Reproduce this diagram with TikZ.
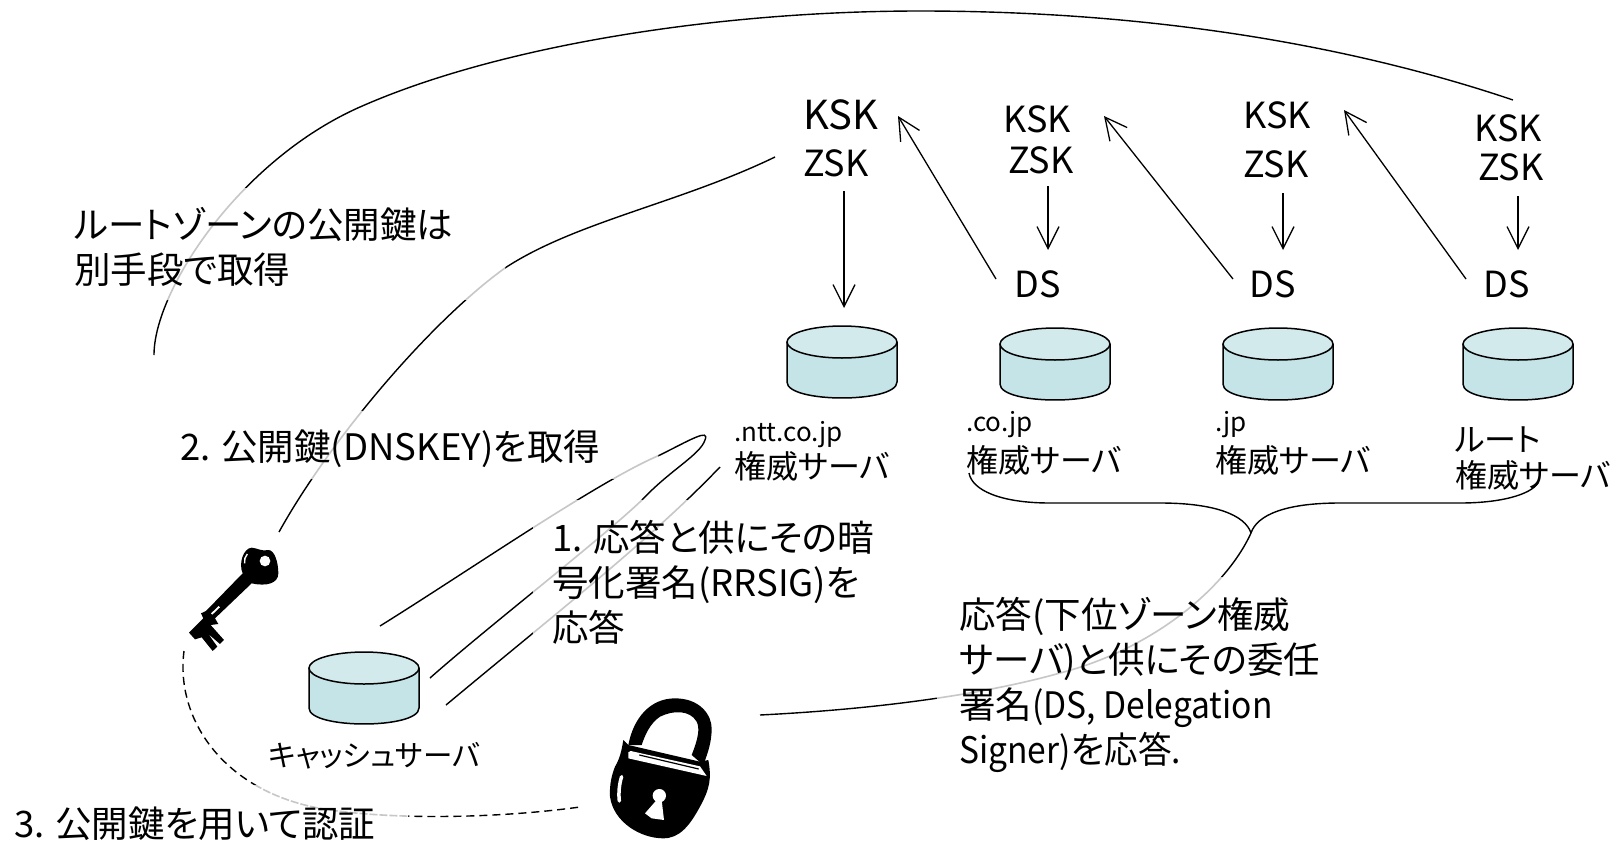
\documentclass[tikz,border=0pt]{standalone}
\usepackage{fontspec}
\usepackage{graphicx}
\usetikzlibrary{arrows.meta}
\setmainfont[RawFeature=+palt]{Noto Sans CJK JP}
\definecolor{cyltop}{HTML}{D2EAEC}
\definecolor{cylbody}{HTML}{C5E4E8}
\tikzset{
  x=1pt,y=-1pt,
  wire/.style={line width=1.4pt,black},
  fadewire/.style={line width=1.6pt,black!22},
  arrowline/.style={line width=1.3pt,-{Straight Barb[length=22pt,width=22pt,line width=1.3pt]}},
  dashline/.style={line width=1.4pt,dash pattern=on 8pt off 5pt},
  big/.style={inner sep=0,anchor=west,align=left,font=\fontsize{36.5}{45}\selectfont},
  small/.style={inner sep=0,anchor=west,align=left,font=\fontsize{32}{36}\selectfont},
  keylabel/.style={inner sep=0,anchor=center,font=\fontsize{36}{40}\selectfont},
}
\newcommand{\dom}[1]{{\fontsize{26}{36}\selectfont #1}}
\newcommand{\narrow}[1]{\scalebox{.92}[1]{#1}}
\newcommand{\dbcyl}[3]{%
  \fill[cylbody] (#2,#3+16) -- (#2,#3+56) .. controls (#2,#3+77.3) and (#2+110,#3+77.3) .. (#2+110,#3+56) -- (#2+110,#3+16) -- cycle;
  \draw[line width=1.5pt] (#2,#3+16) -- (#2,#3+56) .. controls (#2,#3+77.3) and (#2+110,#3+77.3) .. (#2+110,#3+56) -- (#2+110,#3+16);
  \draw[line width=1.5pt,fill=cyltop] (#2+55,#3+16) ellipse [x radius=55,y radius=16];
  \coordinate (#1) at (#2+55,#3);
}
\def\ArcPath{(arcA) .. controls (154,290) and (240,160) .. (360,107) .. controls (500,45) and (720,11) .. (920,11) .. controls (1150,11) and (1350,45) .. (arcB)}
\def\KeyPath{(zskA) .. controls (680,203) and (575,222) .. (505,268) .. controls (430,322) and (330,440) .. (keyTop)}
\def\LoopPath{(cacheA) .. controls (470,570) and (600,480) .. (660,455) .. controls (690,440) and (710,428) .. (705,440) .. controls (700,455) and (670,470) .. (642,500) .. controls (600,540) and (490,625) .. (cacheB)}
\def\ThirdPath{(nttC) .. controls (650,540) and (560,610) .. (cacheC)}
\def\DelegPath{(fork) .. controls (1225,590) and (1150,650) .. (1060,673) .. controls (1000,690) and (900,708) .. (lockA)}
\def\DashPath{(keyBot) .. controls (175,720) and (225,795) .. (330,810) .. controls (400,820) and (500,818) .. (lockB)}
\begin{document}
\begin{tikzpicture}
\useasboundingbox (0,0) rectangle (1619,841);
% anchor points
\coordinate (arcA) at (154,355); \coordinate (arcB) at (1513,100);
\coordinate (zskA) at (775,157); \coordinate (keyTop) at (279,532);
\coordinate (cacheA) at (380,626); \coordinate (cacheB) at (430,678);
\coordinate (nttC) at (720,467); \coordinate (cacheC) at (446,705);
\coordinate (fork) at (1251,533); \coordinate (lockA) at (760,715);
\coordinate (keyBot) at (184,651); \coordinate (lockB) at (580,807);
\coordinate (braceL) at (969,473); \coordinate (braceR) at (1538,483);
% cylinders
\dbcyl{dbntt}{787}{326}
\dbcyl{dbco}{1000}{328}
\dbcyl{dbjp}{1223}{328}
\dbcyl{dbroot}{1463}{328}
\dbcyl{dbcache}{309}{652}
% curves
\draw[wire] \ArcPath;
\draw[wire] \KeyPath;
\draw[wire] \LoopPath;
\draw[wire] \ThirdPath;
\draw[wire] \DelegPath;
\draw[dashline] \DashPath;
\draw[wire] (braceL) .. controls (972,490) and (1000,503) .. (1050,503) -- (1160,503) .. controls (1215,503) and (1245,515) .. (fork);
\draw[wire] (fork) .. controls (1257,515) and (1285,503) .. (1340,503) -- (1460,503) .. controls (1500,503) and (1530,495) .. (braceR);
% faded stretches behind the text
\begin{scope}
\clip (60,188) rectangle (505,299);
\draw[fadewire,white,line width=3pt] \ArcPath; \draw[fadewire,white,line width=3pt] \KeyPath;
\draw[fadewire] \ArcPath; \draw[fadewire] \KeyPath;
\end{scope}
\begin{scope}
\clip (170,411) rectangle (658,478);
\draw[fadewire,white,line width=3pt] \KeyPath; \draw[fadewire,white,line width=3pt] \LoopPath;
\draw[fadewire] \KeyPath; \draw[fadewire] \LoopPath;
\end{scope}
\begin{scope}
\clip (533,500) rectangle (900,633);
\draw[fadewire,white,line width=3pt] \LoopPath; \draw[fadewire,white,line width=3pt] \ThirdPath;
\draw[fadewire] \LoopPath; \draw[fadewire] \ThirdPath;
\end{scope}
\begin{scope}
\clip (937,577) rectangle (1340,780);
\draw[fadewire,white,line width=3pt] \DelegPath;
\draw[fadewire] \DelegPath;
\end{scope}
\begin{scope}
\clip (0,785) rectangle (408,841);
\draw[white,line width=3pt] \DashPath;
\draw[fadewire,dash pattern=on 8pt off 2pt] \DashPath;
\end{scope}
% labels
\node[keylabel,font=\fontsize{40}{44}\selectfont] (ksk1) at (841,115) {KSK};
\node[keylabel] (zsk1) at (836,163) {ZSK};
\node[keylabel] (ksk2) at (1037,119) {KSK};
\node[keylabel] (zsk2) at (1041,160) {ZSK};
\node[keylabel] (ds2) at (1038,284) {DS};
\node[keylabel] (ksk3) at (1277,115) {KSK};
\node[keylabel] (zsk3) at (1276,164) {ZSK};
\node[keylabel] (ds3) at (1273,284) {DS};
\node[keylabel] (ksk4) at (1508,128) {KSK};
\node[keylabel] (zsk4) at (1511,167) {ZSK};
\node[keylabel] (ds4) at (1507,284) {DS};
% arrows
\coordinate (a1) at (844,191); \coordinate (a1e) at (844,308);
\coordinate (a2) at (1048,186); \coordinate (a2e) at (1048,250);
\coordinate (a3) at (1283,193); \coordinate (a3e) at (1283,250);
\coordinate (a4) at (1518,196); \coordinate (a4e) at (1518,250);
\coordinate (d2) at (996,279); \coordinate (d2e) at (898,116);
\coordinate (d3) at (1233,279); \coordinate (d3e) at (1104,116);
\coordinate (d4) at (1466,279); \coordinate (d4e) at (1344,110);
\draw[arrowline] (a1) -- (a1e);
\draw[arrowline] (a2) -- (a2e);
\draw[arrowline] (a3) -- (a3e);
\draw[arrowline] (a4) -- (a4e);
\draw[arrowline] (d2) -- (d2e);
\draw[arrowline] (d3) -- (d3e);
\draw[arrowline] (d4) -- (d4e);
% text blocks
\node[big] (rootnote) at (74,247) {ルートゾーンの公開鍵は\\別手段で取得};
\node[big] (step2) at (180,449) {2. 公開鍵(DNSKEY)を取得};
\node[big] (step1) at (552,582) {1. 応答と供にその暗\\号化署名(RRSIG)を\\応答};
\node[big] (deleg) at (959,685) {応答(下位ゾーン権威\\サーバ)と供にその委任\\署名\narrow{(DS, Delegation}\\\narrow{Signer)}を\narrow{応答.}};
\node[big] (step3) at (14,824) {3. 公開鍵を用いて認証};
\node[small] (nttlab) at (734,451) {\dom{.ntt.co.jp}\\[1pt]権威サーバ};
\node[small] (colab) at (966,443) {\dom{.co.jp}\\[5pt]権威サーバ};
\node[small] (jplab) at (1215,443) {\dom{.jp}\\[5pt]権威サーバ};
\node[small] (rootlab) at (1455,458) {ルート\\権威サーバ};
\node[small,font=\fontsize{29.5}{36}\selectfont] (cachelab) at (268,756) {キャッシュサーバ};
% key
\begin{scope}[shift={(170,530)},x=0.3333pt,y=-0.3333pt]
\fill (218,130) .. controls (205,100) and (220,55) .. (245,53) .. controls (265,55) and (275,65) .. (295,60) .. controls (315,60) and (325,100) .. (325,130) .. controls (325,160) and (290,170) .. (245,160) -- (135,265) -- (145,282) -- (122,285) -- (162,330) -- (150,342) -- (115,312) -- (142,350) -- (128,363) -- (95,322) -- (75,328) -- (57,308) -- (100,265) -- (93,250) -- (108,243) -- cycle;
\fill[white] (285,93) circle [radius=16];
\draw[white,line width=1.4pt] (232,72) .. controls (225,80) and (222,90) .. (224,100);
\draw[white,line width=1.8pt] (125,252) -- (148,230);
\end{scope}
% lock
\begin{scope}[shift={(600,695)},x=0.3333pt,y=-0.3333pt]
\fill (85,150) .. controls (100,70) and (150,10) .. (225,10) .. controls (300,10) and (335,60) .. (335,100) .. controls (335,140) and (325,170) .. (310,210) -- (275,180) .. controls (295,130) and (300,100) .. (290,80) .. controls (270,45) and (220,45) .. (180,65) .. controls (150,85) and (135,120) .. (125,150) -- cycle;
\fill (70,135) -- (85,150) -- (300,200) -- (325,195) .. controls (335,250) and (330,280) .. (300,335) .. controls (270,390) and (240,430) .. (190,430) .. controls (120,430) and (40,380) .. (30,305) .. controls (28,270) and (35,240) .. (45,215) .. controls (60,190) and (65,165) .. (70,135) -- cycle;
\fill[white] (130,150) -- (278,183) -- (276,190) -- (127,157) -- cycle;
\fill[white] (85,172) -- (92,168) -- (300,214) -- (320,243) -- (85,190) -- cycle;
\draw[line width=1.2pt] (118,180) -- (296,222);
\draw[white,line width=3.5pt,line cap=round] (65,245) .. controls (58,265) and (55,295) .. (58,318);
\fill[white] (178,302) circle [radius=20];
\fill[white] (170,315) -- (135,355) -- (155,370) -- (192,375) -- (185,315) -- cycle;
\end{scope}
\end{tikzpicture}
\end{document}
